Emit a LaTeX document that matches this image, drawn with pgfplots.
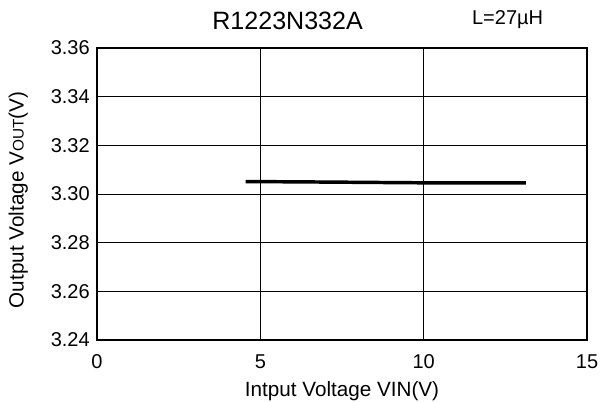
\documentclass[border=0pt]{standalone}
\usepackage{fontspec}
\setmainfont{Liberation Sans}
\usepackage{pgfplots}
\pgfplotsset{compat=1.18}
\begin{document}
\begin{tikzpicture}
\begin{axis}[
  scale only axis, width=367.5pt, height=219pt,
  clip=false,
  xmin=0, xmax=15, ymin=3.24, ymax=3.36,
  xtick={0,5,10,15},
  ytick={3.24,3.26,3.28,3.30,3.32,3.34,3.36},
  grid=major,
  major grid style={black, line width=0.6pt},
  axis line style={black, line width=0.8pt},
  tick style={draw=none},
  /pgf/number format/assume math mode=true,
  ticklabel style={font=\fontsize{15}{15}\selectfont, inner sep=0pt},
  yticklabel style={anchor=east, xshift=-5.25pt, /pgf/number format/.cd, fixed, fixed zerofill, precision=2},
  xticklabel style={anchor=north, yshift=-11pt},
  xlabel={Intput Voltage VIN(V)},
  label style={font=\fontsize{15.5}{15.5}\selectfont, inner sep=0pt},
  xlabel style={at={(axis description cs:0.5,0)}, anchor=base, yshift=-42.5pt},
]
\addplot[black, line width=2.6pt, smooth] coordinates {
  (4.55,3.3051) (6,3.3050) (8,3.3048) (10,3.3046) (12,3.30455) (13.13,3.3046)
};
\node[font=\fontsize{18.8}{18.8}\selectfont, anchor=center, inner sep=0pt] at ([yshift=20.5pt]rel axis cs:0.389,1) {R1223N332A};
\node[font=\fontsize{15}{15}\selectfont, anchor=center, inner sep=0pt] at ([yshift=21pt]rel axis cs:0.838,1) {L=27µH};
\node[font=\fontsize{15.5}{15.5}\selectfont, rotate=90, anchor=center, inner sep=0pt] at ([xshift=-59pt,yshift=-4.5pt]rel axis cs:0,0.5) {Output Voltage V{\fontsize{11.5}{11.5}\selectfont OUT}(V)};
\end{axis}
\pgfresetboundingbox
\path (-72.75pt,-46.5pt) rectangle (378.75pt,255pt);
\end{tikzpicture}
\end{document}
